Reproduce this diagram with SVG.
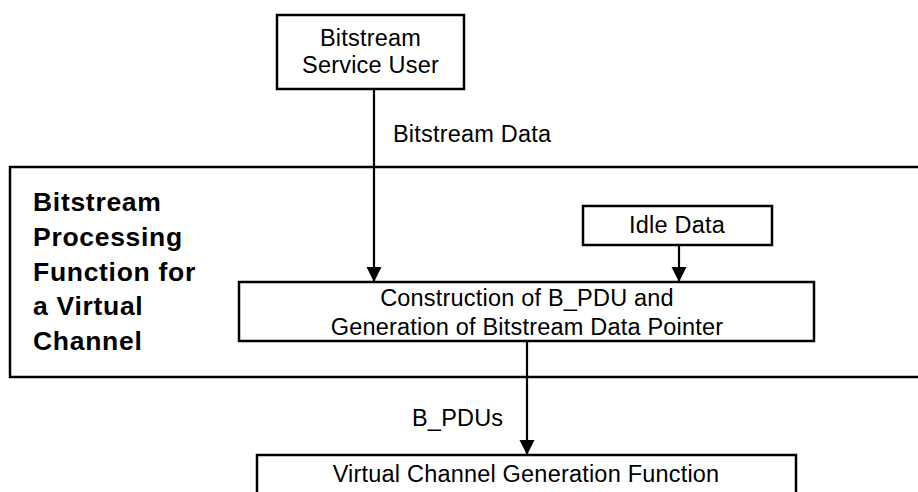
<svg xmlns="http://www.w3.org/2000/svg" width="918" height="492" viewBox="0 0 918 492">
<defs>
<style>
.box{fill:#fff;stroke:#000;stroke-width:2.5}
.frame{fill:none;stroke:#000;stroke-width:2.5}
.t{font-family:"Liberation Sans",Arial,sans-serif;font-size:23.5px;letter-spacing:0.2px;fill:#000}
.c{text-anchor:middle}
.b{font-family:"Liberation Sans",Arial,sans-serif;font-size:26.5px;font-weight:bold;letter-spacing:0.7px;fill:#000}
.ln{stroke:#000;stroke-width:2.2;fill:none}
</style>
<marker id="ah" markerUnits="userSpaceOnUse" markerWidth="16" markerHeight="16" refX="15" refY="7.5" orient="auto">
<path d="M0,0 L15,7.5 L0,15 Z" fill="#000"/>
</marker>
</defs>
<rect id="background" x="0" y="0" width="918" height="492" fill="#fff"/>
<g id="bitstream-processing-function">
<rect class="frame" x="10" y="167" width="920" height="210"/>
<text class="b" x="33" y="211">Bitstream</text>
<text class="b" x="33" y="246">Processing</text>
<text class="b" x="33" y="281">Function for</text>
<text class="b" x="33" y="315">a Virtual</text>
<text class="b" x="33" y="350">Channel</text>
</g>
<g id="service-user">
<rect class="box" x="277" y="15" width="187" height="74"/>
<text class="t c" x="370.5" y="46">Bitstream</text>
<text class="t c" x="370.5" y="73">Service User</text>
</g>
<g id="idle-data">
<rect class="box" x="583" y="206" width="189" height="39"/>
<text class="t c" x="677" y="233">Idle Data</text>
</g>
<g id="construction">
<rect class="box" x="239" y="282" width="575" height="59"/>
<text class="t c" x="527" y="306">Construction of B_PDU and</text>
<text class="t c" x="527" y="335">Generation of Bitstream Data Pointer</text>
</g>
<g id="vc-generation">
<rect class="box" x="257" y="455" width="539" height="60"/>
<text class="t c" x="526" y="482">Virtual Channel Generation Function</text>
</g>
<g id="connectors">
<line class="ln" x1="374" y1="89" x2="374" y2="282" marker-end="url(#ah)"/>
<line class="ln" x1="679" y1="245" x2="679" y2="282" marker-end="url(#ah)"/>
<line class="ln" x1="527" y1="341" x2="527" y2="455" marker-end="url(#ah)"/>
<text class="t" x="393" y="142">Bitstream Data</text>
<text class="t" x="412" y="426">B_PDUs</text>
</g>
</svg>
